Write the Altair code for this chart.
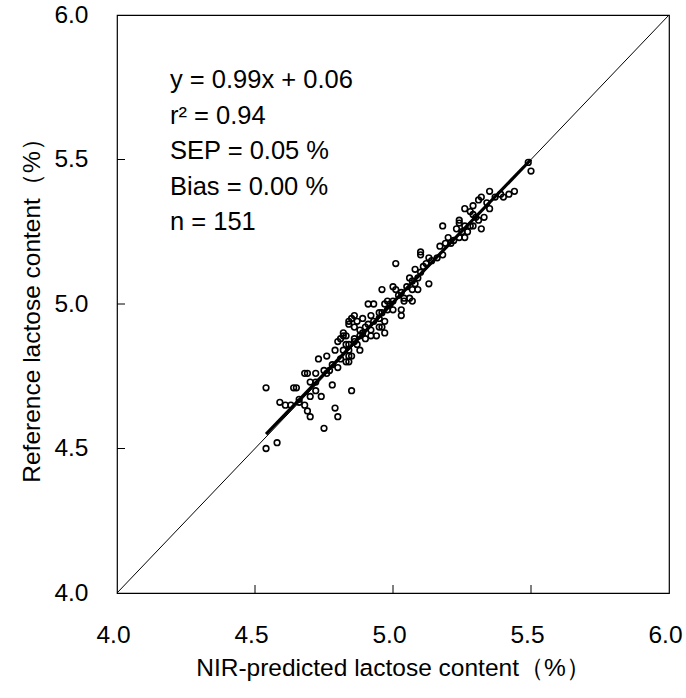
import altair as alt
import pandas as pd

# NIR-predicted (x) and reference (y) lactose content
nir = [
    4.54, 4.54, 4.58, 4.59, 4.61, 4.63, 4.64, 4.65, 4.66, 4.68,
    4.69, 4.68, 4.69, 4.70, 4.70, 4.70, 4.72, 4.72, 4.73, 4.74,
    4.75, 4.75, 4.76, 4.77, 4.78, 4.79, 4.80, 4.79, 4.80, 4.80,
    4.81, 4.82, 4.83, 4.84, 4.84, 4.83, 4.85,
    5.19, 5.17, 5.10, 5.10, 5.13, 5.16, 5.01, 5.08, 5.10, 5.06,
    5.09, 5.13, 5.07, 5.09, 5.07, 5.00, 5.01, 5.03, 4.96, 5.06,
    5.07, 5.04, 5.04, 4.98, 4.99, 4.97, 5.00, 4.91, 4.93, 5.03,
    5.03, 4.96, 4.95, 4.97, 4.92, 4.89, 4.86, 4.85, 4.84, 4.84,
    4.87, 4.86, 4.90, 4.96, 4.95, 4.92, 4.97, 4.94, 4.89, 4.88,
    4.92, 4.82, 4.83, 4.81, 4.90, 4.86, 4.84, 4.87, 4.84, 4.88,
    4.85,
    5.50, 5.44, 5.42, 5.40, 5.39, 5.35, 5.32, 5.31, 5.35, 5.33,
    5.29, 5.26, 5.29, 5.28, 5.31, 5.24, 5.24, 5.26, 5.29, 5.32,
    5.28, 5.23, 5.27, 5.26, 5.18, 5.22, 5.24, 5.18,
    4.66, 4.72, 4.76, 4.78, 4.82, 4.86, 4.88, 4.91, 4.93, 4.95,
    4.98, 5.00, 5.02, 5.05, 5.08, 5.11, 5.12, 5.14, 5.20, 5.21,
    5.25, 5.30, 5.34, 5.37, 5.49,
]
reference = [
    4.71, 4.50, 4.52, 4.66, 4.65, 4.65, 4.71, 4.71, 4.67, 4.76,
    4.76, 4.65, 4.63, 4.61, 4.73, 4.68, 4.76, 4.70, 4.81, 4.68,
    4.77, 4.57, 4.82, 4.77, 4.72, 4.64, 4.61, 4.84, 4.78, 4.87,
    4.81, 4.89, 4.80, 4.82, 4.80, 4.86, 4.70,
    5.21, 5.20, 5.18, 5.17, 5.16, 5.16, 5.14, 5.12, 5.11, 5.09,
    5.09, 5.07, 5.08, 5.05, 5.05, 5.06, 5.05, 5.04, 5.05, 5.02,
    5.01, 5.02, 5.01, 5.01, 5.00, 5.00, 4.98, 5.00, 5.00, 4.98,
    4.96, 4.97, 4.95, 4.94, 4.96, 4.95, 4.96, 4.95, 4.94, 4.93,
    4.94, 4.92, 4.92, 4.92, 4.92, 4.91, 4.90, 4.89, 4.90, 4.89,
    4.89, 4.90, 4.89, 4.88, 4.88, 4.87, 4.86, 4.86, 4.84, 4.84,
    4.82,
    5.46, 5.39, 5.38, 5.37, 5.38, 5.39, 5.37, 5.36, 5.33, 5.30,
    5.34, 5.33, 5.31, 5.32, 5.29, 5.29, 5.28, 5.27, 5.27, 5.26,
    5.27, 5.26, 5.25, 5.23, 5.27, 5.22, 5.23, 5.17,
    4.66, 4.73, 4.76, 4.79, 4.84, 4.88, 4.91, 4.93, 4.94, 4.97,
    4.98, 5.01, 5.03, 5.06, 5.07, 5.13, 5.14, 5.15, 5.23, 5.21,
    5.25, 5.30, 5.35, 5.37, 5.49,
]

# fitted line end points and the 1:1 line
fit_x = [4.54, 5.50]
fit_y = [4.55, 5.50]
diag = [4.0, 6.0]
tick_values = [4.5, 5.0, 5.5]
axis_ticks = [4.0, 4.5, 5.0, 5.5, 6.0]
stats_lines = ["y = 0.99x + 0.06", "r² = 0.94", "SEP = 0.05 %", "Bias = 0.00 %", "n = 151"]

FONT = "Liberation Sans, Arial, sans-serif"
W, H = 552, 578

pts = pd.DataFrame({"x": nir, "y": reference})
fit = pd.DataFrame({"x": fit_x, "y": fit_y})
dg = pd.DataFrame({"x": diag, "y": diag})
tk = pd.DataFrame({"v": tick_values})

xscale = alt.Scale(domain=[4.0, 6.0], nice=False, zero=False)
yscale = alt.Scale(domain=[4.0, 6.0], nice=False, zero=False)

xaxis = alt.Axis(
    title="NIR-predicted lactose content（%）", values=axis_ticks, format=".1f",
    grid=False, domain=False, ticks=False, tickSize=0,
    labelFont=FONT, labelFontSize=24.5, labelColor="black", labelPadding=49,
    labelBaseline="alphabetic", labelOffset=-4, labelFlush=False,
    titleFont=FONT, titleFontSize=24.5, titleFontWeight="normal", titleColor="black",
    titleBaseline="alphabetic", titleY=82,
)
yaxis = alt.Axis(
    title="Reference lactose content（%）", values=axis_ticks, format=".1f",
    grid=False, domain=False, ticks=False, tickSize=0,
    labelFont=FONT, labelFontSize=24.5, labelColor="black", labelPadding=29,
    labelFlush=False,
    titleFont=FONT, titleFontSize=24.5, titleFontWeight="normal", titleColor="black",
    titleBaseline="alphabetic", titleX=-78, titleY=H / 2, titleAngle=-90,
)

diag_line = alt.Chart(dg).mark_line(color="black", strokeWidth=1).encode(
    x=alt.X("x:Q", scale=xscale, axis=xaxis),
    y=alt.Y("y:Q", scale=yscale, axis=yaxis),
)
points = alt.Chart(pts).mark_point(
    shape="circle", filled=False, color="black", strokeWidth=1.6, size=32, opacity=1
).encode(x="x:Q", y="y:Q")
fit_line = alt.Chart(fit).mark_line(color="black", strokeWidth=3.2).encode(x="x:Q", y="y:Q")

xticks = alt.Chart(tk).mark_rule(color="black", strokeWidth=1).encode(
    x="v:Q", y=alt.value(H), y2=alt.value(H - 8)
)
yticks = alt.Chart(tk).mark_rule(color="black", strokeWidth=1).encode(
    y="v:Q", x=alt.value(0), x2=alt.value(8)
)

texts = []
for i, s in enumerate(stats_lines):
    texts.append(
        alt.Chart(pd.DataFrame({"t": [s]})).mark_text(
            align="left", baseline="alphabetic", font=FONT, fontSize=25.5, color="black"
        ).encode(text="t:N", x=alt.value(53), y=alt.value(73 + i * 35.5))
    )

chart = alt.layer(diag_line, xticks, yticks, points, fit_line, *texts).properties(
    width=W, height=H,
    padding={"left": 117, "top": 15, "right": 17, "bottom": 105},
    autosize=alt.AutoSizeParams(type="none"),
    background="white",
).configure_view(stroke="black", strokeWidth=1.2)

chart.save("out.html", embed_options={"renderer": "svg", "actions": False})
